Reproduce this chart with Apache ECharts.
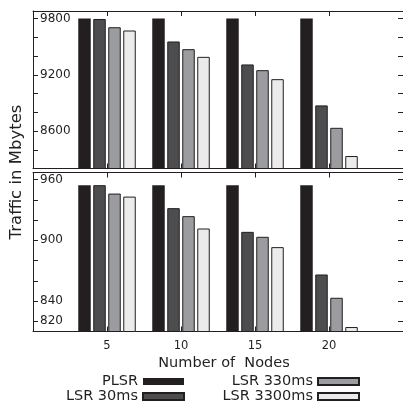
<!DOCTYPE html>
<html lang="en">
<head>
    <meta charset="UTF-8">
    <title></title>
    <style>
        html, body { margin: 0; padding: 0; background: #fff; }
    </style>
</head>
<body>
<div id="main" style="width: 403px;height: 406px"></div>
<script src="https://cdn.jsdelivr.net/npm/echarts@6/dist/echarts.min.js"></script>
<script>
    // x positions: 0 and 25 only pad the axis, bars sit on nodes
    var axisCats = ['0', '5', '10', '15', '20', '25'];
    var nodes = ['5', '10', '15', '20'];
    var seriesNames = ['PLSR', 'LSR 30ms', 'LSR 330ms', 'LSR 3300ms'];

    // upper panel
    var plsrTop = [9800, 9800, 9800, 9800];
    var lsr30Top = [9795, 9555, 9310, 8873];
    var lsr330Top = [9707, 9473, 9249, 8634];
    var lsr3300Top = [9672, 9391, 9153, 8333];

    // lower panel
    var plsrBottom = [954.5, 954.5, 954.5, 954.5];
    var lsr30Bottom = [954.5, 931.8, 908.4, 866.3];
    var lsr330Bottom = [946.2, 923.9, 903.5, 843.3];
    var lsr3300Bottom = [943.2, 911.7, 893.3, 814.4];

    var topTicks = [8400, 8600, 8800, 9000, 9200, 9400, 9600, 9800];
    var topLabels = [8600, 9200, 9800];
    var bottomTicks = [820, 840, 860, 880, 900, 920, 940, 960];
    var bottomLabels = [820, 840, 900, 960];

    var fills = ['#231f20', '#4d4d4f', '#9b9c9f', '#ebebeb'];
    var ink = '#231f20';
    var font = 'DejaVu Sans';

    var myChart = echarts.init(document.getElementById('main'));

    function catAxis(grid, pos, showLabels, name) {
        return {
            type: 'category',
            gridIndex: grid,
            position: pos,
            data: axisCats,
            boundaryGap: false,
            axisLine: {lineStyle: {color: ink, width: 1}},
            axisTick: {
                inside: true, length: 5,
                lineStyle: {color: ink},
                interval: function (i) { return i > 0 && i < axisCats.length - 1; }
            },
            axisLabel: {
                show: showLabels,
                margin: 9,
                fontFamily: font, fontSize: 11.5, color: ink,
                interval: function (i) { return i > 0 && i < axisCats.length - 1; }
            },
            name: name || '',
            nameLocation: 'middle',
            nameGap: 24,
            nameTextStyle: {fontFamily: font, fontSize: 14.5, color: ink, padding: [0, 0, 0, 12]},
            splitLine: {show: false}
        };
    }

    function valAxis(grid, pos, min, max, ticks, labels, showLabels) {
        return {
            type: 'value',
            gridIndex: grid,
            position: pos,
            min: min,
            max: max,
            axisLine: {show: true, lineStyle: {color: ink, width: 1}},
            axisTick: {show: true, inside: true, length: 5, lineStyle: {color: ink}, customValues: ticks},
            axisLabel: {
                show: showLabels, inside: true, margin: 7,
                fontFamily: font, fontSize: 12, color: ink,
                customValues: labels,
                formatter: function (v) { return String(v); }
            },
            splitLine: {show: false}
        };
    }

    var series = [];
    var upper = [plsrTop, lsr30Top, lsr330Top, lsr3300Top];
    var lower = [plsrBottom, lsr30Bottom, lsr330Bottom, lsr3300Bottom];
    for (var i = 0; i < seriesNames.length; i++) {
        var style = {color: fills[i], borderColor: ink, borderWidth: i === 0 ? 0 : 1};
        series.push({
            name: seriesNames[i], type: 'bar', xAxisIndex: 0, yAxisIndex: 0,
            barWidth: 12.5, barGap: '20%', itemStyle: style,
            data: nodes.map(function (n, k) { return [n, upper[i][k]]; })
        });
        series.push({
            name: seriesNames[i], type: 'bar', xAxisIndex: 2, yAxisIndex: 2,
            barWidth: 12.5, barGap: '20%', itemStyle: style,
            data: nodes.map(function (n, k) { return [n, lower[i][k]]; })
        });
    }

    var legendBase = {
        orient: 'vertical',
        align: 'right',
        padding: 0,
        itemGap: 0,
        itemWidth: 41,
        itemHeight: 7,
        icon: 'rect',
        top: 374,
        textStyle: {fontFamily: font, fontSize: 14.5, color: ink, lineHeight: 15}
    };

    var option = {
        animation: false,
        grid: [
            {left: 33, right: -1, top: 11, height: 157.5},
            {left: 33, right: -1, top: 172.5, height: 159}
        ],
        xAxis: [
            catAxis(0, 'bottom', false),
            catAxis(0, 'top', false),
            catAxis(1, 'bottom', true, 'Number of  Nodes'),
            catAxis(1, 'top', false)
        ],
        yAxis: [
            valAxis(0, 'left', 8200, 9880, topTicks, topLabels, true),
            valAxis(0, 'right', 8200, 9880, topTicks, topLabels, false),
            valAxis(1, 'left', 810, 967, bottomTicks, bottomLabels, true),
            valAxis(1, 'right', 810, 967, bottomTicks, bottomLabels, false)
        ],
        legend: [
            Object.assign({}, legendBase, {right: 218, data: ['PLSR', 'LSR 30ms']}),
            Object.assign({}, legendBase, {right: 43, data: ['LSR 330ms', 'LSR 3300ms']})
        ],
        graphic: [{
            type: 'text',
            x: 17,
            y: 172,
            rotation: Math.PI / 2,
            style: {
                text: 'Traffic in Mbytes',
                font: '16.5px "DejaVu Sans"',
                fill: ink,
                align: 'center',
                verticalAlign: 'middle'
            }
        }],
        series: series
    };

    myChart.setOption(option);
</script>
</body>
</html>
